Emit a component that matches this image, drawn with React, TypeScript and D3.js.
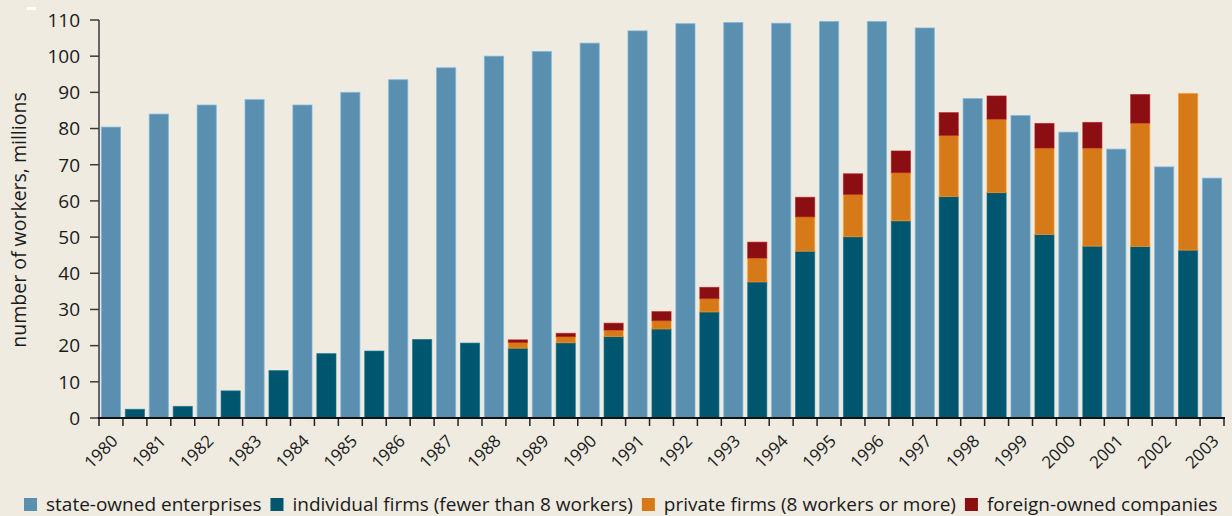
import React, { useEffect, useRef } from 'react';
import * as d3 from 'd3';

// state-owned enterprises, one bar per year
const years = [
  '1980', '1981', '1982', '1983', '1984', '1985', '1986', '1987', '1988', '1989', '1990', '1991',
  '1992', '1993', '1994', '1995', '1996', '1997', '1998', '1999', '2000', '2001', '2002', '2003'
];
const stateOwned = [
  80.4, 84.0, 86.5, 88.0, 86.5, 90.0, 93.5, 96.8, 100.0, 101.3, 103.6, 107.0,
  109.0, 109.3, 109.1, 109.6, 109.6, 107.8, 88.3, 83.6, 79.0, 74.3, 69.4, 66.3
];

// non-state sector, stacked bar next to each year (no bar for 2003)
const stackYears = years.slice(0, 23);
const individualFirms = [
  2.4, 3.2, 7.5, 13.1, 17.8, 18.5, 21.7, 20.7, 19.3, 20.8, 22.5, 24.6,
  29.3, 37.6, 46.1, 50.1, 54.5, 61.2, 62.3, 50.7, 47.5, 47.4, 46.4
];
const privateFirms = [
  0, 0, 0, 0, 0, 0, 0, 0, 1.6, 1.7, 1.8, 2.3,
  3.7, 6.6, 9.5, 11.7, 13.3, 16.9, 20.3, 23.9, 27.1, 34.1, 43.3
];
const foreignOwned = [
  0, 0, 0, 0, 0, 0, 0, 0, 0.7, 0.9, 1.9, 2.5,
  3.1, 4.4, 5.4, 5.7, 6.0, 6.3, 6.4, 6.8, 7.1, 7.9, 0
];

const yTicks = [0, 10, 20, 30, 40, 50, 60, 70, 80, 90, 100, 110];
const seriesKeys = ['state', 'individual', 'private', 'foreign'];
const legendLabels = [
  'state-owned enterprises',
  'individual firms (fewer than 8 workers)',
  'private firms (8 workers or more)',
  'foreign-owned companies'
];

const COLORS: Record<string, string> = {
  state: '#5b8fb0',
  individual: '#00566e',
  private: '#d67919',
  foreign: '#8b0e12'
};
const BG = '#efebe1';
const FONT = '"Open Sans", "Noto Sans", sans-serif';

const W = 1232;
const H = 516;

const App = () => {
  const svgRef = useRef<SVGSVGElement>(null);

  useEffect(() => {
    const svg = d3.select(svgRef.current);
    svg.selectAll('*').remove();

    svg.append('rect').attr('width', W).attr('height', H).attr('fill', BG);
    svg.append('rect').attr('x', 27).attr('y', 7).attr('width', 9).attr('height', 3).attr('fill', '#fff');

    // one slot per bar: state bar then stacked bar for every year
    const slots: string[] = [];
    years.forEach((y, i) => {
      slots.push(y + '-s');
      if (i < stackYears.length) slots.push(y + '-p');
    });

    const x = d3.scaleBand<string>().domain(slots).range([99, 1224]).paddingInner(0.2).paddingOuter(0.1);
    const y = d3.scaleLinear().domain([0, 110]).range([418, 20]);
    const step = x.step();
    const edge = (k: string) => (x(k) as number) - step * 0.1;

    const g = svg.append('g');

    // state-owned bars
    g.selectAll('rect.state')
      .data(years)
      .enter().append('rect')
      .attr('class', 'state')
      .attr('x', d => x(d + '-s') as number)
      .attr('width', x.bandwidth())
      .attr('y', (d, i) => y(stateOwned[i]))
      .attr('height', (d, i) => y(0) - y(stateOwned[i]))
      .attr('fill', COLORS.state)
      .attr('stroke', d3.color(COLORS.state)!.brighter(0.7).formatHex())
      .attr('stroke-opacity', 0.7)
      .attr('stroke-width', 1);

    // stacked bars
    const rows = stackYears.map((yr, i) => ({
      year: yr,
      individual: individualFirms[i],
      private: privateFirms[i],
      foreign: foreignOwned[i]
    }));
    const stacked = d3.stack<any>().keys(['individual', 'private', 'foreign'])(rows);

    g.selectAll('g.layer')
      .data(stacked)
      .enter().append('g')
      .attr('class', 'layer')
      .attr('fill', d => COLORS[d.key])
      .attr('stroke', d => d3.color(COLORS[d.key])!.brighter(0.7).formatHex())
      .attr('stroke-opacity', 0.6)
      .attr('stroke-width', 1)
      .selectAll('rect')
      .data(d => d.filter(p => p[1] - p[0] > 0))
      .enter().append('rect')
      .attr('x', d => x(d.data.year + '-p') as number)
      .attr('width', x.bandwidth())
      .attr('y', d => y(d[1]))
      .attr('height', d => y(d[0]) - y(d[1]));

    // y axis
    const ya = svg.append('g');
    ya.append('line').attr('x1', 99).attr('x2', 99).attr('y1', y(110)).attr('y2', y(0))
      .attr('stroke', '#3a3a3a').attr('stroke-width', 1.5);
    ya.selectAll('line.tick')
      .data(yTicks)
      .enter().append('line')
      .attr('class', 'tick')
      .attr('x1', 90).attr('x2', 99)
      .attr('y1', d => y(d)).attr('y2', d => y(d))
      .attr('stroke', '#3a3a3a').attr('stroke-width', 1.5);
    ya.selectAll('text')
      .data(yTicks)
      .enter().append('text')
      .attr('x', 80)
      .attr('y', d => y(d))
      .attr('dy', '0.36em')
      .attr('text-anchor', 'end')
      .style('font-family', FONT)
      .style('font-size', '19px')
      .attr('fill', '#1a1a1a')
      .text(d => d);

    svg.append('text')
      .attr('transform', 'translate(26,220) rotate(-90)')
      .attr('text-anchor', 'middle')
      .style('font-family', FONT)
      .style('font-size', '19.5px')
      .attr('fill', '#1a1a1a')
      .text('number of workers, millions');

    // x axis
    const xa = svg.append('g');
    const bounds = slots.map(edge).concat([1224]);
    xa.selectAll('line.tick')
      .data(bounds)
      .enter().append('line')
      .attr('class', 'tick')
      .attr('x1', d => d).attr('x2', d => d)
      .attr('y1', 418).attr('y2', 426)
      .attr('stroke', '#222').attr('stroke-width', 1.5);
    xa.append('line').attr('x1', 98).attr('x2', 1225).attr('y1', 418).attr('y2', 418)
      .attr('stroke', '#111').attr('stroke-width', 2);
    xa.selectAll('text')
      .data(years)
      .enter().append('text')
      .attr('transform', d => `translate(${edge(d + '-s') + step - 4},442) rotate(-45)`)
      .attr('text-anchor', 'end')
      .style('font-family', FONT)
      .style('font-size', '17px')
      .attr('fill', '#1a1a1a')
      .text(d => d);

    // legend
    const lg = svg.append('g');
    let lx = 24;
    seriesKeys.forEach((k, i) => {
      lg.append('rect').attr('x', lx).attr('y', 498).attr('width', 13).attr('height', 13).attr('fill', COLORS[k]);
      const t = lg.append('text')
        .attr('x', lx + 22)
        .attr('y', 511)
        .style('font-family', FONT)
        .style('font-size', '19px')
        .attr('fill', '#1a1a1a')
        .text(legendLabels[i]);
      const tw = (t.node() as SVGTextElement).getComputedTextLength();
      lx = lx + 22 + tw + 9;
    });
  }, []);

  return (
    <svg ref={svgRef} width={W} height={H} style={{ position: 'absolute', left: 0, top: 0 }}></svg>
  );
};

export default App;
